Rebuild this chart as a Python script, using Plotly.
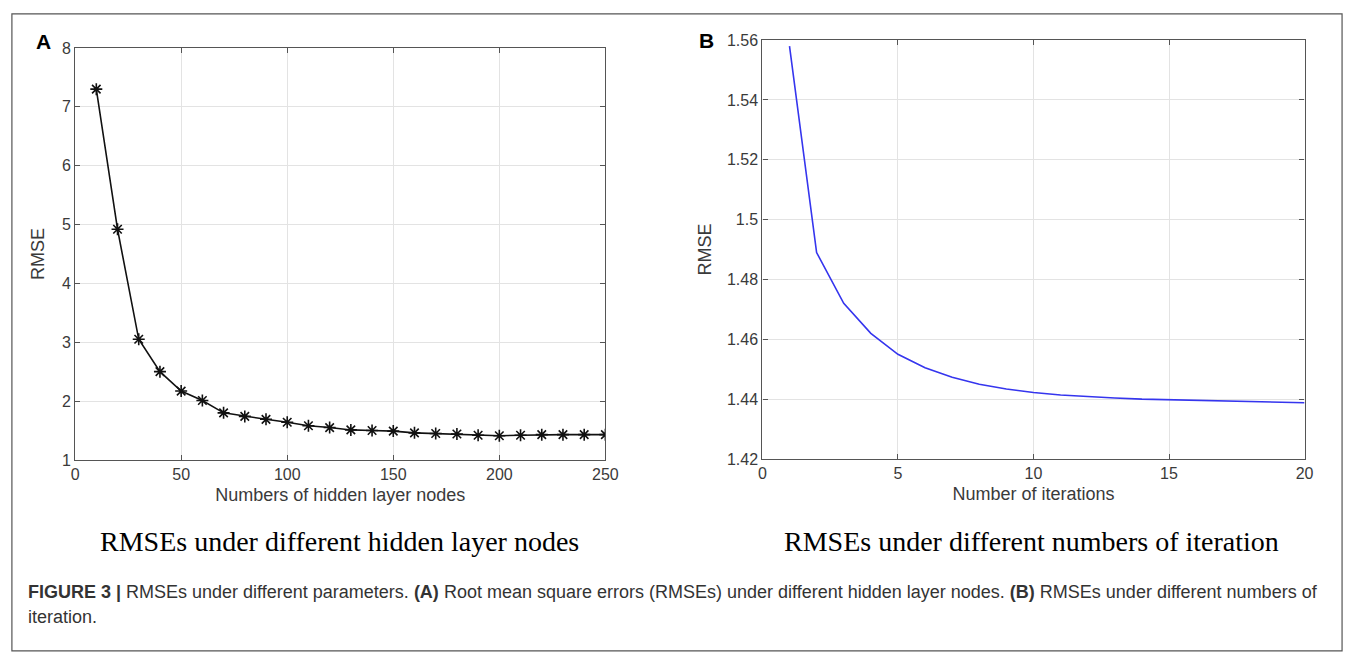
import plotly.graph_objects as go

# Panel A data
nodes = [10, 20, 30, 40, 50, 60, 70, 80, 90, 100, 110, 120, 130, 140, 150,
         160, 170, 180, 190, 200, 210, 220, 230, 240, 250]
rmse_nodes = [7.30, 4.92, 3.05, 2.50, 2.17, 2.01, 1.80, 1.74, 1.69, 1.64, 1.58,
              1.55, 1.51, 1.50, 1.49, 1.46, 1.45, 1.44, 1.42, 1.41, 1.42, 1.43,
              1.43, 1.43, 1.43]

# Panel B data
iterations = list(range(1, 21))
rmse_iter = [1.558, 1.489, 1.472, 1.462, 1.455, 1.4505, 1.4473, 1.4450, 1.4434,
             1.4422, 1.4414, 1.4408, 1.4404, 1.4400, 1.4398, 1.4396, 1.4394,
             1.4392, 1.4390, 1.4388]

ticks_a_x = [0, 50, 100, 150, 200, 250]
ticks_a_y = [1, 2, 3, 4, 5, 6, 7, 8]
ticks_b_x = [0, 5, 10, 15, 20]
ticks_b_y = [1.42, 1.44, 1.46, 1.48, 1.50, 1.52, 1.54, 1.56]
ticks_b_y_text = ["1.42", "1.44", "1.46", "1.48", "1.5", "1.52", "1.54", "1.56"]

W, H = 1360, 654
FONT = "Liberation Sans, Arial, sans-serif"
SERIF = "Liberation Serif, Times New Roman, serif"
TICKCOL = "#3a3a3a"

fig = go.Figure()
fig.add_trace(go.Scatter(
    x=nodes, y=rmse_nodes, mode="lines+markers",
    line=dict(color="#111111", width=1.6),
    marker=dict(symbol="asterisk-open", size=10, color="#111111",
                line=dict(width=1.6, color="#111111")),
    xaxis="x", yaxis="y", showlegend=False))
fig.add_trace(go.Scatter(
    x=iterations, y=rmse_iter, mode="lines",
    line=dict(color="#3535ee", width=1.6),
    xaxis="x2", yaxis="y2", showlegend=False))


def px_x(p):
    return p / W


def px_y(p):
    return 1 - p / H


axis_common = dict(
    showline=True, linecolor="#555555", linewidth=1.2, mirror="ticks",
    ticks="inside", ticklen=5, tickcolor="#555555",
    showgrid=True, gridcolor="#e3e3e3", gridwidth=1, zeroline=False,
    tickfont=dict(family=FONT, size=16, color=TICKCOL),
)
title_font = dict(family=FONT, size=18, color=TICKCOL)

fig.update_layout(
    width=W, height=H, margin=dict(l=0, r=0, t=0, b=0),
    paper_bgcolor="white", plot_bgcolor="white",
    xaxis=dict(domain=[px_x(72), px_x(609)], range=[0, 250],
               tickvals=ticks_a_x, anchor="y",
               title=dict(text="Numbers of hidden layer nodes", font=title_font, standoff=6),
               **axis_common),
    yaxis=dict(domain=[px_y(464), px_y(41)], range=[1, 8],
               tickvals=ticks_a_y, anchor="x",
               title=dict(text="RMSE", font=title_font, standoff=12),
               **axis_common),
    xaxis2=dict(domain=[px_x(768), px_x(1317)], range=[0, 20],
                tickvals=ticks_b_x, anchor="y2",
                title=dict(text="Number of iterations", font=title_font, standoff=6),
                **axis_common),
    yaxis2=dict(domain=[px_y(463), px_y(33)], range=[1.42, 1.56],
                tickvals=ticks_b_y, ticktext=ticks_b_y_text, anchor="x2",
                title=dict(text="RMSE", font=title_font, standoff=10),
                **axis_common),
)

# outer border
fig.add_shape(type="rect", xref="paper", yref="paper",
              x0=px_x(8), x1=px_x(1355), y0=px_y(660), y1=px_y(6),
              line=dict(color="#555555", width=1.2), fillcolor="rgba(0,0,0,0)")

# panel letters
fig.add_annotation(x=px_x(40), y=px_y(34), xref="paper", yref="paper",
                   xanchor="center", yanchor="middle",
                   text="<b>A</b>", showarrow=False,
                   font=dict(family=FONT, size=21, color="black"))
fig.add_annotation(x=px_x(711), y=px_y(33), xref="paper", yref="paper",
                   xanchor="center", yanchor="middle",
                   text="<b>B</b>", showarrow=False,
                   font=dict(family=FONT, size=21, color="black"))

# subtitles
fig.add_annotation(x=px_x(340), y=px_y(548), xref="paper", yref="paper",
                   xanchor="center", yanchor="middle",
                   text="RMSEs under different hidden layer nodes", showarrow=False,
                   font=dict(family=SERIF, size=28, color="black"))
fig.add_annotation(x=px_x(1040), y=px_y(548), xref="paper", yref="paper",
                   xanchor="center", yanchor="middle",
                   text="RMSEs under different numbers of iteration", showarrow=False,
                   font=dict(family=SERIF, size=28, color="black"))

# caption
fig.add_annotation(x=px_x(22), y=px_y(600), xref="paper", yref="paper",
                   xanchor="left", yanchor="middle",
                   text=("<b>FIGURE 3 |</b> RMSEs under different parameters. <b>(A)</b> Root mean square "
                         "errors (RMSEs) under different hidden layer nodes. <b>(B)</b> RMSEs under "
                         "different numbers of"),
                   showarrow=False,
                   font=dict(family=FONT, size=18, color="#333333"))
fig.add_annotation(x=px_x(22), y=px_y(625), xref="paper", yref="paper",
                   xanchor="left", yanchor="middle", text="iteration.", showarrow=False,
                   font=dict(family=FONT, size=18, color="#333333"))

fig.write_html("out.html")
